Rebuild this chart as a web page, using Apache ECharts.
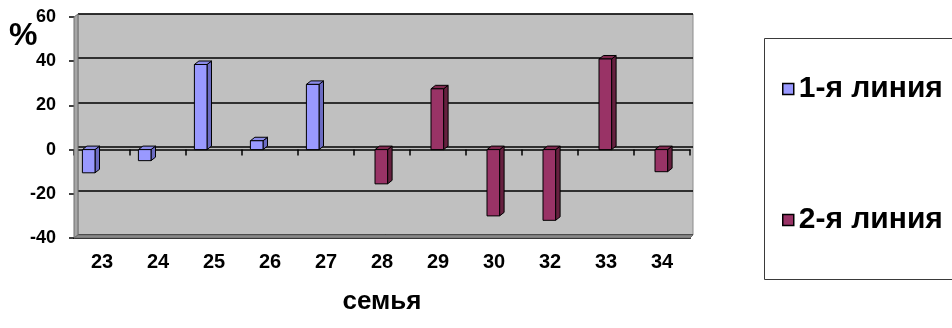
<!DOCTYPE html>
<html>
<head>
<meta charset="utf-8">
<script src="https://cdn.jsdelivr.net/npm/echarts@6/dist/echarts.min.js"></script>
<style>
  html, body { margin: 0; padding: 0; background: #ffffff; }
  #chart { width: 952px; height: 328px; }
</style>
</head>
<body>
<div id="chart"></div>
<script>
// Families on the x axis and the percentage for each line
const categories = ['23', '24', '25', '26', '27', '28', '29', '30', '32', '33', '34'];
const line1 = [-10.5, -5, 38.5, 4, 29.5, null, null, null, null, null, null];
const line2 = [null, null, null, null, null, -15.5, 27.5, -30, -32, 41, -10];
const seriesNames = ['1-я линия', '2-я линия'];
const yMin = -40, yMax = 60, yStep = 20;
const axisTitle = 'семья';
const unitLabel = '%';

const FONT = "'Liberation Sans', Arial, sans-serif";

function toPoints(vals) {
  return vals.map((v, i) => (v == null ? null : [i, v])).filter(Boolean);
}

// Pseudo-3D column: front face, top face and right side face
function makeBarRenderer(slotStart, slotEnd, faces) {
  return function (params, api) {
    const idx = api.value(0);
    const val = api.value(1);
    const band = api.size([1, 0])[0];
    const pt = api.coord([idx, val]);
    const zero = api.coord([idx, 0]);
    const left = pt[0] - band / 2;
    const xa = left + band * slotStart;
    const xb = left + band * slotEnd;
    const yTop = Math.min(pt[1], zero[1]);
    const yBot = Math.max(pt[1], zero[1]);
    const dx = 4.5, dy = -3.5;
    const edge = { stroke: '#000000', lineWidth: 1 };
    return {
      type: 'group',
      children: [
        { type: 'polygon', shape: { points: [[xb, yTop], [xb + dx, yTop + dy], [xb + dx, yBot + dy], [xb, yBot]] },
          style: Object.assign({ fill: faces.side }, edge) },
        { type: 'polygon', shape: { points: [[xa, yTop], [xa + dx, yTop + dy], [xb + dx, yTop + dy], [xb, yTop]] },
          style: Object.assign({ fill: faces.top }, edge) },
        { type: 'rect', shape: { x: xa, y: yTop, width: xb - xa, height: yBot - yTop },
          style: Object.assign({ fill: faces.front }, edge) }
      ]
    };
  };
}

const chart = echarts.init(document.getElementById('chart'));

chart.setOption({
  animation: false,
  backgroundColor: '#ffffff',
  textStyle: { fontFamily: FONT },
  grid: [
    // front plane: axes and columns
    { left: 74, right: 262, top: 17, bottom: 90, containLabel: false },
    // back wall with the gridlines
    { left: 78, right: 259, top: 14, bottom: 93, show: true, backgroundColor: '#C0C0C0',
      borderColor: '#8c8c8c', borderWidth: 1 }
  ],
  xAxis: [
    {
      gridIndex: 0, type: 'category', data: categories, position: 'bottom',
      name: axisTitle, nameLocation: 'middle', nameGap: 51,
      nameTextStyle: { fontFamily: FONT, fontWeight: 'bold', fontSize: 26, color: '#000' },
      axisLine: { show: true, onZero: false, lineStyle: { color: '#000', width: 2 } },
      axisTick: { show: false },
      axisLabel: { margin: 14, fontFamily: FONT, fontWeight: 'bold', fontSize: 20, color: '#000' },
      splitLine: { show: false }
    },
    {
      gridIndex: 0, type: 'category', data: categories, position: 'bottom',
      axisLine: { show: true, onZero: true, lineStyle: { color: '#000', width: 1.5 } },
      axisTick: { show: true, length: 6, lineStyle: { color: '#000', width: 1.5 } },
      axisLabel: { show: false },
      splitLine: { show: false }
    },
    {
      gridIndex: 1, type: 'category', data: categories, show: false
    }
  ],
  yAxis: [
    {
      gridIndex: 0, type: 'value', min: yMin, max: yMax, interval: yStep,
      axisLine: { show: true, lineStyle: { color: '#333', width: 1 } },
      axisTick: { show: true, length: 5, lineStyle: { color: '#000', width: 1.5 } },
      axisLabel: { margin: 18, fontFamily: FONT, fontWeight: 'bold', fontSize: 18, color: '#000' },
      splitLine: { show: false }
    },
    {
      gridIndex: 1, type: 'value', min: yMin, max: yMax, interval: yStep,
      axisLine: { show: false }, axisTick: { show: false }, axisLabel: { show: false },
      splitLine: { show: true, lineStyle: { color: '#000', width: 1.5 } }
    }
  ],
  legend: {
    orient: 'vertical', left: 777, top: 69,
    itemWidth: 11, itemHeight: 11, itemGap: 101,
    textStyle: { fontFamily: FONT, fontWeight: 'bold', fontSize: 30, color: '#000', lineHeight: 28 },
    itemStyle: { borderColor: '#000', borderWidth: 1.5 },
    data: [{ name: seriesNames[0], icon: 'rect' }, { name: seriesNames[1], icon: 'rect' }]
  },
  graphic: [
    // left side wall
    { type: 'polygon', z: 1, silent: true,
      shape: { points: [[74, 17], [78, 14], [78, 235], [74, 238]] },
      style: { fill: '#a6a6a6', stroke: '#6e6e6e', lineWidth: 1 } },
    // floor strip
    { type: 'polygon', z: 1, silent: true,
      shape: { points: [[78, 235], [693, 235], [690, 238], [74, 238]] },
      style: { fill: '#8a8a8a', stroke: '#6e6e6e', lineWidth: 1 } },
    // legend frame
    { type: 'rect', z: 1, silent: true,
      shape: { x: 764.5, y: 38.5, width: 200, height: 241 },
      style: { fill: 'none', stroke: '#3a3a3a', lineWidth: 1 } },
    { type: 'text', z: 5, left: 9, top: 20,
      style: { text: unitLabel, font: "bold 32px 'Liberation Sans', Arial, sans-serif", fill: '#000' } }
  ],
  series: [
    {
      name: seriesNames[0], type: 'custom', xAxisIndex: 0, yAxisIndex: 0,
      itemStyle: { color: '#9999FF' },
      renderItem: makeBarRenderer(0.15, 0.375, { front: '#9999FF', top: '#8a8ae8', side: '#6b6bc2' }),
      encode: { x: 0, y: 1 },
      data: toPoints(line1)
    },
    {
      name: seriesNames[1], type: 'custom', xAxisIndex: 0, yAxisIndex: 0,
      itemStyle: { color: '#993366' },
      renderItem: makeBarRenderer(0.375, 0.6, { front: '#993366', top: '#80294f', side: '#66203f' }),
      encode: { x: 0, y: 1 },
      data: toPoints(line2)
    }
  ]
});
</script>
</body>
</html>
